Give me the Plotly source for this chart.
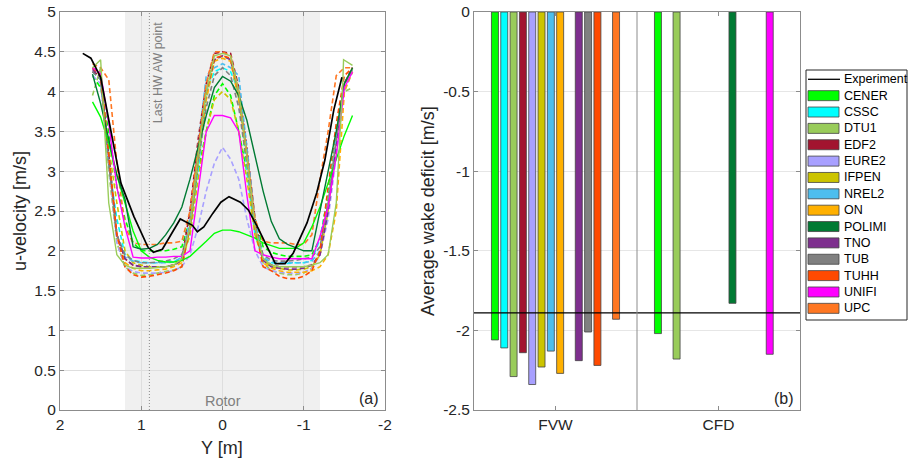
import plotly.graph_objects as go

# ---- data ----
codes = ["CENER", "CSSC", "DTU1", "EDF2", "EURE2", "IFPEN", "NREL2", "ON",
         "POLIMI", "TNO", "TUB", "TUHH", "UNIFI", "UPC"]
colors = ["#00FF00", "#00FFFF", "#99CC5A", "#A2142F", "#A8A0FF", "#CCC400", "#4DBEEE", "#FFB000",
          "#007A33", "#7E2F8E", "#808080", "#FF4A00", "#FF00FF", "#FF7722"]

groups = ["FVW", "CFD"]
# average wake deficit [m/s] per code, (FVW, CFD); None = no result
deficit = {
    "CENER": [-2.06, -2.02],
    "CSSC": [-2.11, None],
    "DTU1": [-2.29, -2.18],
    "EDF2": [-2.14, None],
    "EURE2": [-2.34, None],
    "IFPEN": [-2.23, None],
    "NREL2": [-2.13, None],
    "ON": [-2.27, None],
    "POLIMI": [None, -1.83],
    "TNO": [-2.19, None],
    "TUB": [-2.01, None],
    "TUHH": [-2.22, None],
    "UNIFI": [None, -2.15],
    "UPC": [-1.93, None],
}
exp_deficit = -1.89

# measured profile
y_exp = [1.72, 1.62, 1.5, 1.37, 1.25, 1.09, 0.92, 0.85, 0.74, 0.52, 0.37, 0.31, 0.23, 0.12, 0.02,
         -0.08, -0.22, -0.32, -0.43, -0.55, -0.65, -0.77, -0.87, -1.04, -1.16, -1.26, -1.37, -1.47]
u_exp = [4.48, 4.42, 4.18, 3.48, 2.85, 2.43, 2.05, 1.98, 2.02, 2.4, 2.32, 2.24, 2.3, 2.47, 2.61,
         2.68, 2.61, 2.51, 2.3, 2.05, 1.84, 1.84, 1.97, 2.35, 2.73, 3.14, 3.77, 4.18]

# simulation profiles on the common traverse
y_sim = [1.6, 1.5, 1.4, 1.3, 1.2, 1.1, 1.0, 0.9, 0.8, 0.7, 0.6, 0.5, 0.4, 0.3, 0.2, 0.1, 0.0,
         -0.1, -0.2, -0.3, -0.4, -0.5, -0.6, -0.7, -0.8, -0.9, -1.0, -1.1, -1.2, -1.3, -1.4, -1.5, -1.6]

u_fvw = {
    "CENER": [4.2, 4.05, 3.5, 2.8, 2.4, 2.1, 2.0, 2.0, 2.0, 2.0, 2.02, 2.05, 2.4, 3.0, 3.5, 3.95, 4.1,
              3.95, 3.5, 3.0, 2.4, 2.05, 1.98, 1.95, 1.93, 1.93, 1.93, 1.95, 2.15, 2.7, 3.5, 4.1, 4.25],
    "CSSC": [4.25, 4.15, 3.1, 2.4, 1.95, 1.88, 1.86, 1.85, 1.85, 1.86, 1.87, 1.9, 2.2, 3.0, 4.0, 4.25, 4.3,
             4.25, 4.0, 3.0, 2.2, 1.9, 1.85, 1.84, 1.84, 1.85, 1.85, 1.88, 2.15, 2.7, 3.5, 4.1, 4.3],
    "DTU1": [3.95, 4.3, 3.0, 2.1, 1.8, 1.72, 1.69, 1.7, 1.72, 1.74, 1.76, 1.8, 2.3, 3.1, 3.9, 4.4, 4.45,
             4.4, 3.9, 3.1, 2.3, 1.85, 1.75, 1.72, 1.7, 1.7, 1.72, 1.78, 2.0, 2.6, 3.4, 4.0, 4.05],
    "EDF2": [4.25, 4.2, 3.2, 2.2, 1.9, 1.82, 1.8, 1.8, 1.8, 1.8, 1.82, 1.9, 2.5, 3.4, 4.1, 4.48, 4.5,
             4.48, 4.05, 3.3, 2.4, 1.9, 1.82, 1.8, 1.8, 1.8, 1.8, 1.82, 1.95, 2.5, 3.4, 4.1, 4.3],
    "EURE2": [4.2, 4.1, 3.1, 2.1, 1.8, 1.74, 1.72, 1.72, 1.72, 1.73, 1.75, 1.8, 1.95, 2.3, 2.75, 3.1, 3.3,
              3.15, 2.9, 2.4, 2.0, 1.8, 1.75, 1.73, 1.72, 1.72, 1.73, 1.78, 1.95, 2.4, 3.2, 4.0, 4.25],
    "IFPEN": [4.3, 4.2, 3.3, 2.6, 2.0, 1.85, 1.82, 1.8, 1.8, 1.8, 1.82, 1.88, 2.2, 2.9, 3.5, 3.9, 4.0,
              3.9, 3.5, 2.9, 2.2, 1.88, 1.8, 1.78, 1.76, 1.76, 1.77, 1.8, 1.95, 2.5, 3.4, 4.1, 4.3],
    "NREL2": [4.3, 4.2, 3.2, 2.2, 1.92, 1.87, 1.85, 1.85, 1.85, 1.85, 1.86, 1.92, 2.4, 3.3, 4.2, 4.3, 4.35,
              4.3, 4.2, 3.3, 2.4, 1.92, 1.86, 1.85, 1.85, 1.85, 1.85, 1.87, 2.0, 2.5, 3.4, 4.1, 4.3],
    "ON": [4.3, 4.2, 3.2, 2.2, 1.85, 1.78, 1.75, 1.75, 1.76, 1.77, 1.8, 1.85, 2.3, 3.2, 3.9, 4.38, 4.42,
           4.38, 3.9, 3.2, 2.3, 1.85, 1.78, 1.75, 1.73, 1.73, 1.73, 1.75, 1.8, 1.95, 2.5, 4.0, 4.25],
    "TNO": [4.28, 4.18, 3.2, 2.2, 1.9, 1.82, 1.8, 1.8, 1.8, 1.8, 1.82, 1.88, 2.3, 3.2, 4.0, 4.4, 4.45,
            4.4, 4.0, 3.2, 2.3, 1.88, 1.8, 1.78, 1.77, 1.77, 1.78, 1.82, 1.95, 2.5, 3.3, 4.1, 4.3],
    "TUB": [4.25, 4.15, 3.1, 2.2, 1.95, 1.88, 1.85, 1.85, 1.86, 1.87, 1.9, 1.95, 2.3, 3.1, 3.8, 4.2, 4.3,
            4.2, 3.8, 3.1, 2.3, 1.95, 1.88, 1.87, 1.87, 1.88, 1.9, 1.92, 2.05, 2.6, 3.4, 4.1, 4.28],
    "TUHH": [4.3, 4.2, 3.2, 2.2, 1.8, 1.7, 1.67, 1.68, 1.7, 1.72, 1.75, 1.8, 2.3, 3.2, 4.0, 4.42, 4.45,
             4.42, 4.0, 3.2, 2.3, 1.8, 1.75, 1.68, 1.65, 1.65, 1.68, 1.75, 2.0, 2.8, 3.6, 4.2, 4.3],
    "UPC": [4.35, 4.3, 4.15, 3.1, 2.3, 2.1, 2.08, 2.08, 2.08, 2.1, 2.1, 2.12, 2.5, 3.3, 4.1, 4.5, 4.5,
            4.45, 4.0, 3.2, 2.4, 2.12, 2.1, 2.1, 2.1, 2.08, 2.08, 2.2, 2.9, 3.5, 4.2, 4.3, 4.3],
}

u_cfd = {
    "CENER": [3.87, 3.68, 3.35, 2.95, 2.6, 2.25, 2.0, 1.92, 1.88, 1.86, 1.86, 1.88, 1.93, 2.02, 2.12, 2.22, 2.26,
              2.26, 2.24, 2.2, 2.16, 2.1, 2.06, 2.03, 2.03, 2.03, 2.1, 2.3, 2.55, 2.85, 3.15, 3.45, 3.7],
    "POLIMI": [4.22, 3.85, 3.4, 2.95, 2.65, 2.05, 2.02, 2.03, 2.08, 2.2, 2.35, 2.55, 2.9, 3.3, 3.7, 4.05, 4.19,
               4.13, 3.95, 3.64, 3.2, 2.75, 2.37, 2.15, 2.08, 2.04, 2.0, 2.0, 2.5, 3.0, 3.5, 4.1, 4.3],
    "UNIFI": [4.3, 4.23, 3.6, 2.8, 2.3, 1.92, 1.91, 1.91, 1.92, 1.92, 1.93, 1.93, 2.0, 2.75, 3.5, 3.7, 3.7,
              3.67, 3.5, 2.7, 2.0, 1.95, 1.92, 1.9, 1.9, 1.9, 1.9, 1.9, 2.18, 2.55, 3.2, 4.05, 4.25],
}
y_dtu_cfd = [1.6, 1.5, 1.49, 1.4, 1.3, 1.2, 1.1, 1.0, 0.9, 0.8, 0.7, 0.6, 0.5, 0.4, 0.3, 0.2, 0.1, 0.0,
             -0.1, -0.2, -0.3, -0.4, -0.5, -0.6, -0.7, -0.8, -0.9, -1.0, -1.1, -1.2, -1.3, -1.4, -1.48, -1.49, -1.6]
u_dtu_cfd = [4.3, 4.4, 4.23, 2.6, 1.95, 1.82, 1.78, 1.78, 1.78, 1.79, 1.8, 1.82, 1.9, 2.3, 3.2, 4.0, 4.45, 4.48,
             4.45, 4.0, 3.2, 2.3, 1.9, 1.82, 1.8, 1.8, 1.8, 1.8, 1.82, 1.85, 1.95, 2.6, 4.1, 4.4, 4.33]

FONT = "Liberation Sans, Arial, sans-serif"
W, H = 909, 462
col = dict(zip(codes, colors))


def px(x):
    return x / W


def py(y):
    return 1 - y / H


fig = go.Figure()

# ---- left: profiles ----
for c, u in u_fvw.items():
    fig.add_trace(go.Scatter(x=y_sim, y=u, mode="lines", hoverinfo="skip",
                             line=dict(color=col[c], width=1.6, dash="5px,3px"), xaxis="x", yaxis="y"))
for c, u in u_cfd.items():
    fig.add_trace(go.Scatter(x=y_sim, y=u, mode="lines", hoverinfo="skip",
                             line=dict(color=col[c], width=1.4), xaxis="x", yaxis="y"))
fig.add_trace(go.Scatter(x=y_dtu_cfd, y=u_dtu_cfd, mode="lines", hoverinfo="skip",
                         line=dict(color=col["DTU1"], width=1.4), xaxis="x", yaxis="y"))
fig.add_trace(go.Scatter(x=y_exp, y=u_exp, mode="lines",
                         line=dict(color="black", width=1.7), xaxis="x", yaxis="y"))

# ---- right: bars ----
fig.add_trace(go.Scatter(x=[0.5, 2.5], y=[exp_deficit, exp_deficit], mode="lines", name="Experiment",
                         line=dict(color="black", width=1.3), xaxis="x2", yaxis="y2"))
for c in codes:
    fig.add_trace(go.Bar(x=[1, 2], y=deficit[c], name=c, xaxis="x2", yaxis="y2",
                         marker=dict(color=col[c], line=dict(color="#444444", width=0.8))))

axis_common = dict(showline=True, linecolor="#8c8c8c", linewidth=1, mirror="ticks", ticks="inside",
                   ticklen=4, tickcolor="#8c8c8c", zeroline=False, automargin=False,
                   tickfont=dict(family=FONT, size=15.5, color="#262626"))

# ---- legend drawn by hand (MATLAB style rectangles) ----
leg_items = ["Experiment"] + codes
row0, row_h = 79.3, 16.36
shapes = [dict(type="rect", xref="paper", yref="paper", x0=px(806), x1=px(907), y0=py(70), y1=py(320),
               fillcolor="white", line=dict(color="#262626", width=1))]
annotations = []
for i, name in enumerate(leg_items):
    yc = row0 + i * row_h
    if name == "Experiment":
        shapes.append(dict(type="line", xref="paper", yref="paper", x0=px(808), x1=px(840),
                           y0=py(yc), y1=py(yc), line=dict(color="black", width=1.3)))
    else:
        shapes.append(dict(type="rect", xref="paper", yref="paper", x0=px(808), x1=px(839),
                           y0=py(yc - 5), y1=py(yc + 5), fillcolor=col[name],
                           line=dict(color="#444444", width=0.8)))
    annotations.append(dict(text=name, x=px(842), y=py(yc), xref="paper", yref="paper",
                            xanchor="left", yanchor="middle", showarrow=False,
                            font=dict(family=FONT, size=12.5, color="black")))

shapes += [
    dict(type="rect", xref="x", yref="y", x0=1.2, x1=-1.2, y0=0, y1=5, fillcolor="#f0f0f0",
         line=dict(width=0), layer="below"),
    dict(type="line", xref="x", yref="y", x0=0.9, x1=0.9, y0=0, y1=5,
         line=dict(color="#8c8c8c", width=1, dash="1px,2px")),
    dict(type="line", xref="x2", yref="y2", x0=1.5, x1=1.5, y0=-2.5, y1=0,
         line=dict(color="#8c8c8c", width=1)),
]
annotations += [
    dict(text="Last HW AW point", x=0.785, y=4.9, xref="x", yref="y", textangle=-90,
         xanchor="center", yanchor="top", showarrow=False,
         font=dict(family=FONT, size=12.5, color="#808080")),
    dict(text="Rotor", x=0, y=py(401), xref="x", yref="paper", xanchor="center", yanchor="middle",
         showarrow=False, font=dict(family=FONT, size=14.5, color="#808080")),
    dict(text="(a)", x=px(381), y=py(398), xref="paper", yref="paper", xanchor="right", yanchor="middle",
         showarrow=False, font=dict(family=FONT, size=16, color="#262626")),
    dict(text="(b)", x=px(796), y=py(398), xref="paper", yref="paper", xanchor="right", yanchor="middle",
         showarrow=False, font=dict(family=FONT, size=16, color="#262626")),
    dict(text="u-velocity [m/s]", x=px(20), y=py(211), xref="paper", yref="paper", textangle=-90,
         xanchor="center", yanchor="middle", showarrow=False, font=dict(family=FONT, size=18, color="#262626")),
    dict(text="Y [m]", x=px(222), y=py(448), xref="paper", yref="paper",
         xanchor="center", yanchor="middle", showarrow=False, font=dict(family=FONT, size=18, color="#262626")),
    dict(text="Average wake deficit [m/s]", x=px(428), y=py(211), xref="paper", yref="paper", textangle=-90,
         xanchor="center", yanchor="middle", showarrow=False, font=dict(family=FONT, size=18, color="#262626")),
]

fig.update_layout(
    width=W, height=H,
    margin=dict(l=0, r=0, t=0, b=0),
    paper_bgcolor="white", plot_bgcolor="white",
    font=dict(family=FONT, color="#262626"),
    showlegend=False,
    barmode="group", bargap=0.2, bargroupgap=0.25,
    xaxis=dict(domain=[px(60), px(385)], range=[2, -2], tickvals=[2, 1, 0, -1, -2],
               ticktext=["2", "1", "0", "-1", "-2"], showgrid=True, gridcolor="#dedede", **axis_common),
    yaxis=dict(domain=[py(410), py(12)], range=[0, 5], tickvals=[0, 0.5, 1, 1.5, 2, 2.5, 3, 3.5, 4, 4.5, 5],
               ticktext=["0", "0.5", "1", "1.5", "2", "2.5", "3", "3.5", "4", "4.5", "5"],
               showgrid=True, gridcolor="#dedede", **axis_common),
    xaxis2=dict(domain=[px(474), px(800)], range=[0.5, 2.5], tickvals=[1, 2], ticktext=groups,
                showgrid=False, anchor="y2", **axis_common),
    yaxis2=dict(domain=[py(410), py(12)], range=[-2.5, 0], tickvals=[-2.5, -2, -1.5, -1, -0.5, 0],
                ticktext=["-2.5", "-2", "-1.5", "-1", "-0.5", "0"], showgrid=True, gridcolor="#e6e6e6",
                anchor="x2", **axis_common),
    shapes=shapes,
    annotations=annotations,
)

# the page's default body margin would shift the figure by 8 px
fig.write_html("out.html", config={"displayModeBar": False},
               post_script="document.body.style.margin='0';")
